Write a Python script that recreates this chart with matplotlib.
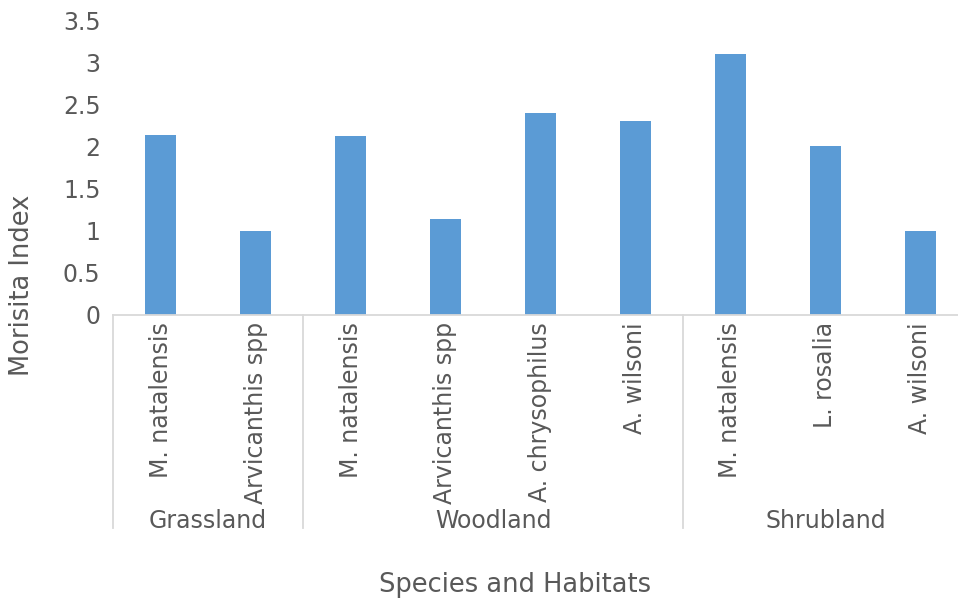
import matplotlib.pyplot as plt
import matplotlib.transforms as mtransforms
import numpy as np

species = ['M. natalensis', 'Arvicanthis spp',
           'M. natalensis', 'Arvicanthis spp', 'A. chrysophilus', 'A. wilsoni',
           'M. natalensis', 'L. rosalia', 'A. wilsoni']
morisita = [2.14, 1.0, 2.12, 1.14, 2.40, 2.30, 3.10, 2.0, 1.0]
habitats = ['Grassland', 'Woodland', 'Shrubland']
habitat_sizes = [2, 4, 3]

txt = '#595959'
grid_c = '#d9d9d9'

fig = plt.figure(figsize=(9.58, 6.03), dpi=100)
# plot area runs a little past the right edge of the image
ax = fig.add_axes([113 / 958, 1 - 315 / 603, 855 / 958, 295 / 603])

x = np.arange(len(species))
ax.bar(x, morisita, width=0.32, color='#5b9bd5')

ax.set_xlim(-0.5, len(species) - 0.5)
ax.set_ylim(0, 3.5)
ax.set_yticks(np.arange(0, 3.51, 0.5))
ax.set_yticklabels(['0', '0.5', '1', '1.5', '2', '2.5', '3', '3.5'])
ax.set_xticks(x)
ax.set_xticklabels(species, rotation=90, va='top')
ax.tick_params(axis='both', length=0, colors=txt, labelsize=17)
ax.tick_params(axis='x', pad=5)
ax.tick_params(axis='y', pad=9)

for s in ['top', 'right', 'left']:
    ax.spines[s].set_visible(False)
ax.spines['bottom'].set_color(grid_c)
ax.spines['bottom'].set_linewidth(1.3)

# group separators and habitat labels below the tick labels
trans = mtransforms.blended_transform_factory(ax.transData, ax.transAxes)
depth = -(528 - 315) / 295
edges = np.concatenate([[0], np.cumsum(habitat_sizes)]) - 0.5
for e in edges:
    ax.plot([e, e], [0, depth], color=grid_c, lw=1.3, transform=trans, clip_on=False)
for i, h in enumerate(habitats):
    c = (edges[i] + edges[i + 1]) / 2
    ax.text(c, -(521 - 315) / 295, h, transform=trans, ha='center', va='center',
            fontsize=17, color=txt)

fig.text(22 / 958, 1 - 285 / 603, 'Morisita Index', rotation=90, ha='center', va='center',
         fontsize=18.5, color=txt)
fig.text(515 / 958, 1 - 585 / 603, 'Species and Habitats', ha='center', va='center',
         fontsize=18.5, color=txt)

fig.savefig('out.png', dpi=100)
